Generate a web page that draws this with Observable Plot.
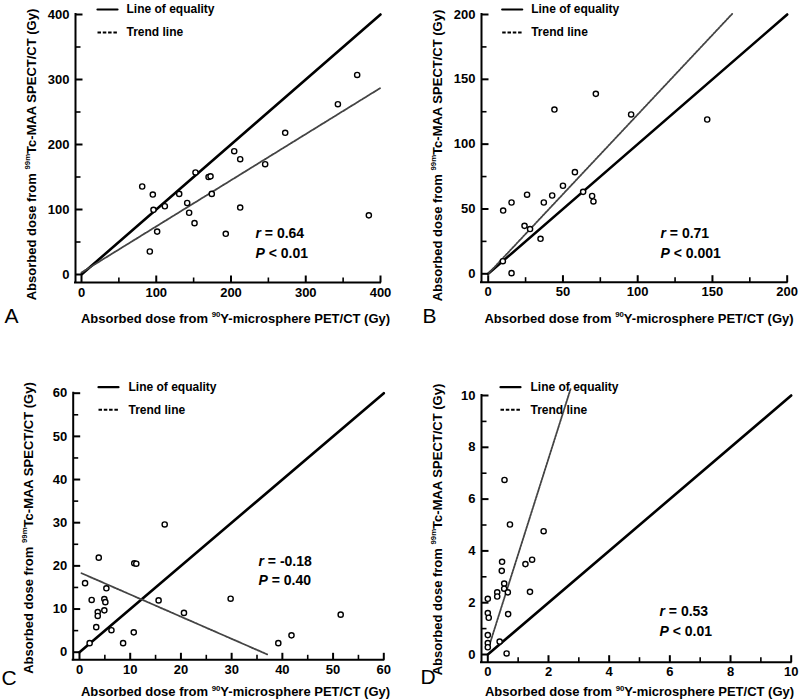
<!DOCTYPE html>
<html><head><meta charset="utf-8">
<script src="https://cdn.jsdelivr.net/npm/d3@7"></script>
<script src="https://cdn.jsdelivr.net/npm/@observablehq/plot@0.6"></script>
<style>
html,body{margin:0;padding:0;background:#fff;}
#fig{position:relative;width:800px;height:699px;overflow:hidden;background:#fff;}
#fig svg{position:absolute;}
</style></head><body><div id="fig"></div>
<script>
// ---------- data ----------
const aX = [81.2,95.4,96.3,91.4,101.2,111.5,130.7,141.4,144,151.2,152.5,170,172.6,174.3,193,204.3,212.3,212.3,245.7,272.5,343,368.8,384.4];
const aY = [135.4,123,99.5,35.4,66,105,124,110,95,79,157,150,151,124,62.6,189.7,177.4,103,169.7,218,262,307,91];
const aTrendX = [0,400];
const aTrendY = [3,287];

const bX = [10,15.6,15.6,9.8,24.3,26,28,35,37.2,42.8,44.3,50,58,63.5,69.5,70.4,72,95.6,146.5];
const bY = [48.8,55,0.5,9.7,37,61,34.5,27,55,60.4,126.7,67.9,78.4,63.2,60,55.8,138.8,122.9,119];
const bTrendX = [0,163.2];
const bTrendY = [0,200.5];

const cX = [1.1,2,2.4,3.3,3.8,3.6,3.6,4.9,4.9,5.1,5.3,6.3,8.6,10.7,10.8,11.2,15.6,16.8,20.6,29.8,39.2,41.8,51.5];
const cY = [16,2.1,12.1,5.8,21.9,9.3,8.4,12.3,9.7,11.6,14.8,5.1,2.1,4.6,20.6,20.5,12,29.6,9.1,12.4,2.1,3.9,8.7];
const cTrendX = [0.4,37];
const cTrendY = [18.3,-0.5];

const dX = [0,0,0.03,0,0,0,0.39,0.31,0.31,0.47,0.46,0.54,0.54,0.55,0.62,0.66,0.67,0.73,1.24,1.39,1.46,1.84];
const dY = [2.15,1.6,1.42,0.75,0.44,0.28,0.5,2.4,2.24,3.58,3.23,2.74,2.54,6.74,0.04,2.4,1.56,5.02,3.49,2.42,3.66,4.76];
const dTrendX = [0.03,2.73];
const dTrendY = [0.28,10.26];

const ticksA = [0,100,200,300,400], minorA = [50,150,250,350];
const ticksB = [0,50,100,150,200], minorB = [25,75,125,175];
const ticksC = [0,10,20,30,40,50,60], minorC = [5,15,25,35,45,55];
const ticksD = [0,2,4,6,8,10], minorD = [1,3,5,7,9];

const equalityA = [0,400], equalityB = [0,200], equalityC = [0,60], equalityD = [0,10];

const letters = ["A","B","C","D"];
const statsR = ["*r* = 0.64","*r* = 0.71","*r* = -0.18","*r* = 0.53"];
const statsP = ["*P* < 0.01","*P* < 0.001","*P* = 0.40","*P* < 0.01"];
const legendLabels = ["Line of equality","Trend line"];
const xLabel = "Absorbed dose from ^{90}Y-microsphere PET/CT (Gy)";
const yLabel = "Absorbed dose from ^{99m}Tc-MAA SPECT/CT (Gy)";

// ---------- layout ----------
const FONT = "'Liberation Sans', Arial, Helvetica, sans-serif";
const panels = [
  {xs:aX, ys:aY, tx:aTrendX, ty:aTrendY, major:ticksA, minor:minorA, eq:equalityA,
   left:0, top:0, width:400, height:340, m:{l:75,r:20,t:14,b:58},
   xDomain:[-8.03,400], yDomain:[-12.3,400],
   L:{letter:[4,316], xlab:[235,318], ylab:[31,154], seg:97, legText:126, rows:[9,32], stats:[255,233,253]}},
  {xs:bX, ys:bY, tx:bTrendX, ty:bTrendY, major:ticksB, minor:minorB, eq:equalityB,
   left:400, top:0, width:400, height:340, m:{l:81,r:13.3,t:14,b:58.3},
   xDomain:[-4.48,200], yDomain:[-6.48,200],
   L:{letter:[22,316], xlab:[238.5,318], ylab:[37,155], seg:101.7, legText:130.7, rows:[9,32], stats:[260,233,253]}},
  {xs:cX, ys:cY, tx:cTrendX, ty:cTrendY, major:ticksC, minor:minorC, eq:equalityC,
   left:0, top:340, width:400, height:359, m:{l:72.7,r:16.7,t:52.7,b:39.7},
   xDomain:[-1.24,60], yDomain:[-1.76,60],
   L:{letter:[1,338], xlab:[235,351.7], ylab:[28,187.5], seg:98, legText:128, rows:[46.7,69.3], stats:[258,220.7,240]}},
  {xs:dX, ys:dY, tx:dTrendX, ty:dTrendY, major:ticksD, minor:minorD, eq:equalityD,
   left:400, top:340, width:400, height:359, m:{l:81,r:9.3,t:55,b:37.3},
   xDomain:[-0.208,10], yDomain:[-0.297,10],
   L:{letter:[20,336.7], xlab:[239,351.7], ylab:[37,189], seg:100, legText:130, rows:[46.7,69.3], stats:[259,270.7,290.7]}}
];

const hLine = {draw(c, l) { c.moveTo(0, 0); c.lineTo(l, 0); }};

function fontSizeOf(el) {
  while (el && el.getAttribute) {
    const a = el.getAttribute("font-size");
    if (a) return parseFloat(a);
    if (el.style && el.style.fontSize) return parseFloat(el.style.fontSize);
    el = el.parentNode;
  }
  return 13;
}
function markup(svg) {
  svg.querySelectorAll("text").forEach(t => {
    const s = t.textContent;
    if (!/\^\{|\*/.test(s)) return;
    const fs = fontSizeOf(t);
    t.textContent = "";
    let raised = false;
    s.split(/(\^\{[^}]*\}|\*[^*]*\*)/).filter(p => p).forEach(p => {
      const ts = document.createElementNS("http://www.w3.org/2000/svg", "tspan");
      if (p.startsWith("^{")) {
        ts.textContent = p.slice(2, -1);
        ts.setAttribute("font-size", fs * 0.6);
        ts.setAttribute("dy", -fs * 0.42);
        raised = true;
      } else {
        if (p.startsWith("*")) { ts.textContent = p.slice(1, -1); ts.setAttribute("font-style", "italic"); }
        else ts.textContent = p;
        if (raised) { ts.setAttribute("dy", fs * 0.42); raised = false; }
      }
      t.appendChild(ts);
    });
  });
}

const fig = document.getElementById("fig");
panels.forEach((P, k) => {
  const {m, L} = P;
  const at = (x, y) => ({frameAnchor: "top-left", dx: x - m.l, dy: y - m.t});
  const [x0, x1] = P.xDomain, [y0, y1] = P.yDomain;
  const kx = (P.width - m.l - m.r) / (x1 - x0);   // px per data unit
  const ky = (P.height - m.t - m.b) / (y1 - y0);
  const svg = Plot.plot({
    width: P.width, height: P.height,
    marginLeft: m.l, marginRight: m.r, marginTop: m.t, marginBottom: m.b,
    x: {domain: P.xDomain}, y: {domain: P.yDomain},
    style: {fontFamily: FONT, fontSize: "13px", fontWeight: "bold", background: "white", color: "black", overflow: "visible"},
    marks: [
      Plot.line(P.eq, {x: d => d, y: d => d, stroke: "black", strokeWidth: 2.6}),
      Plot.line(P.tx, {x: d => d, y: (d, i) => P.ty[i], stroke: "#444", strokeWidth: 1.8, strokeDasharray: "2,1.2"}),
      Plot.dot(P.xs, {x: d => d, y: (d, i) => P.ys[i], r: 2.6, stroke: "black", strokeWidth: 1.4, fill: "white"}),
      // axis lines (offset from the origin)
      Plot.ruleX([x0], {y1: y0, y2: y1, stroke: "black", strokeWidth: 2, strokeLinecap: "square"}),
      Plot.ruleY([y0], {x1: x0, x2: x1, stroke: "black", strokeWidth: 2, strokeLinecap: "square"}),
      // inward ticks
      Plot.link(P.major, {x1: d => d, x2: d => d, y1: y0, y2: y0 + 7 / ky, stroke: "black", strokeWidth: 2}),
      Plot.link(P.minor, {x1: d => d, x2: d => d, y1: y0, y2: y0 + 5 / ky, stroke: "black", strokeWidth: 1.6}),
      Plot.link(P.major, {y1: d => d, y2: d => d, x1: x0, x2: x0 + 7 / kx, stroke: "black", strokeWidth: 2}),
      Plot.link(P.minor, {y1: d => d, y2: d => d, x1: x0, x2: x0 + 5 / kx, stroke: "black", strokeWidth: 1.6}),
      Plot.axisX(P.major, {tickSize: 0, tickPadding: 5, label: null}),
      Plot.axisY(P.major, {tickSize: 0, tickPadding: 6, label: null}),
      // legend
      Plot.vector([legendLabels[0]], {...at(L.seg, L.rows[0]), anchor: "start", length: 20, shape: hLine, stroke: "black", strokeWidth: 2.2}),
      Plot.vector([legendLabels[1]], {...at(L.seg, L.rows[1]), anchor: "start", length: 20, shape: hLine, stroke: "black", strokeWidth: 2, strokeDasharray: "3.5,1.8", strokeLinecap: "butt"}),
      Plot.text([legendLabels[0]], {...at(L.legText, L.rows[0]), text: d => d, textAnchor: "start", lineAnchor: "middle", fontSize: 12}),
      Plot.text([legendLabels[1]], {...at(L.legText, L.rows[1]), text: d => d, textAnchor: "start", lineAnchor: "middle", fontSize: 12}),
      // stats
      Plot.text([statsR[k]], {...at(L.stats[0], L.stats[1]), text: d => d, textAnchor: "start", lineAnchor: "middle", fontSize: 14}),
      Plot.text([statsP[k]], {...at(L.stats[0], L.stats[2]), text: d => d, textAnchor: "start", lineAnchor: "middle", fontSize: 14}),
      // axis titles
      Plot.text([xLabel], {...at(L.xlab[0], L.xlab[1]), text: d => d, textAnchor: "middle", lineAnchor: "middle", fontSize: 13}),
      Plot.text([yLabel], {...at(L.ylab[0], L.ylab[1]), text: d => d, textAnchor: "middle", lineAnchor: "middle", rotate: -90, fontSize: 13}),
      Plot.text([letters[k]], {...at(L.letter[0], L.letter[1]), text: d => d, textAnchor: "start", lineAnchor: "middle", fontSize: 21, fontWeight: "normal"})
    ]
  });
  markup(svg);
  svg.style.left = P.left + "px";
  svg.style.top = P.top + "px";
  fig.appendChild(svg);
});
</script>
</body></html>
